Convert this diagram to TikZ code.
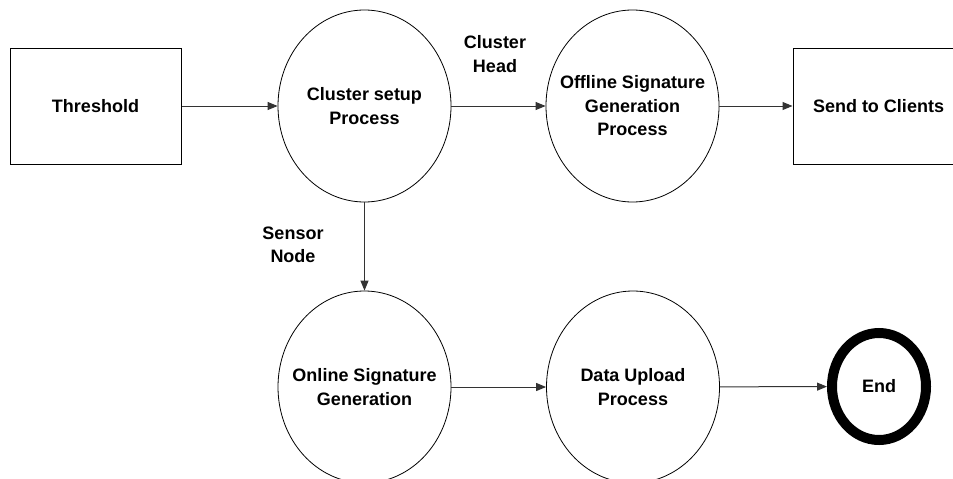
\documentclass[tikz,border=0pt]{standalone}
\usepackage{fontspec}
\setmainfont{Liberation Sans}
\usetikzlibrary{shapes.geometric,arrows.meta}
\tikzset{
  lbl/.style={font=\bfseries\fontsize{18}{23.5}\selectfont, align=center},
  boxnode/.style={draw, line width=1pt, minimum width=171pt, minimum height=116pt, inner sep=0pt, lbl},
  procnode/.style={draw, ellipse, line width=0.8pt, minimum width=173pt, minimum height=192pt, inner sep=0pt,
    label={[lbl]center:#1}},
  endnode/.style={draw, ellipse, line width=10pt, minimum width=94pt, minimum height=107pt, inner sep=0pt, lbl},
  conn/.style={line width=1pt, draw=black!80, -{Triangle[length=10pt,width=8pt]}}
}
\begin{document}
\begin{tikzpicture}[x=1pt,y=-1pt]
\path[use as bounding box] (0,0) rectangle (953,479);
\node[boxnode] (thr) at (95.5,106) {Threshold};
\node[procnode={Cluster setup\\Process}] (cs) at (364.5,106) {};
\node[procnode={Offline Signature\\Generation\\Process}] (off) at (632.5,106) {};
\node[boxnode] (send) at (878.5,106) {Send to Clients};
\node[procnode={Online Signature\\Generation}] (on) at (364.5,387) {};
\node[procnode={Data Upload\\Process}] (up) at (633,387) {};
\node[endnode] (end) at (879,386.5) {End};
\node[lbl] (ch) at (495,54) {Cluster\\Head};
\node[lbl] (sn) at (293,245) {Sensor\\Node};
\draw[conn] (thr) -- (cs);
\draw[conn] (cs) -- (off);
\draw[conn] (off) -- (send);
\draw[conn] (cs) -- (on);
\draw[conn] (on) -- (up);
\draw[conn] (up) -- (end);
\end{tikzpicture}
\end{document}
